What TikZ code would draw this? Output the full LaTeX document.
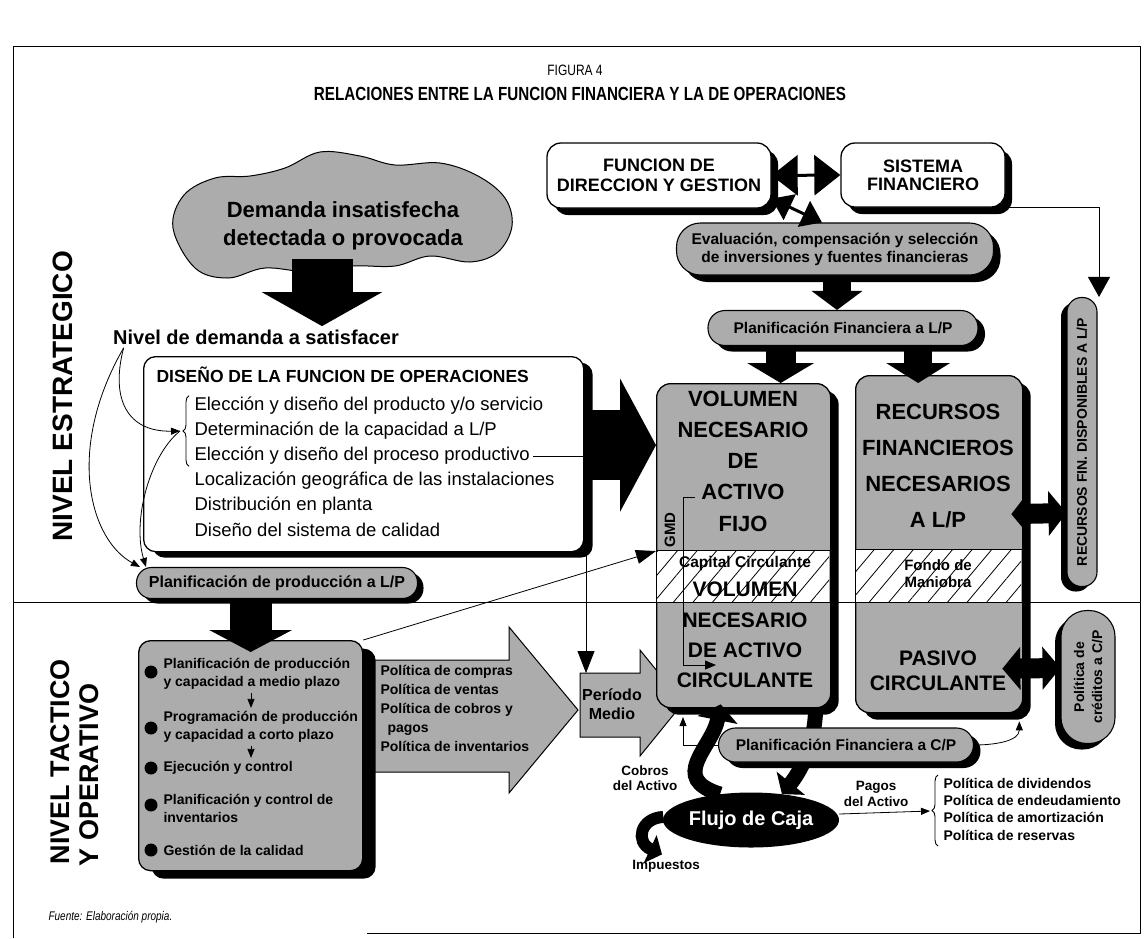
\documentclass[tikz,border=0pt]{standalone}
\usepackage{fontspec}
\setmainfont{Liberation Sans}
\newfontfamily\condfont[FakeStretch=0.8]{Liberation Sans}
\usetikzlibrary{arrows.meta,shapes.geometric,shadows,patterns.meta,decorations.pathreplacing}
\newcommand{\tam}[2]{\fontsize{#1}{#2}\selectfont}
\definecolor{fgris}{RGB}{172,172,172}
\tikzset{
  sombra/.style 2 args={drop shadow={shadow xshift=#1, shadow yshift=#2, fill=black, opacity=1}},
  caja/.style={draw, line width=1.3pt, rounded corners=12pt, fill=white, inner sep=2pt},
  cajagris/.style={caja, fill=fgris},
  pildora/.style={draw, line width=1.1pt, fill=fgris, rounded corners=#1, inner sep=2pt,
                  font=\bfseries\tam{15.5}{18}},
  negra/.style={draw=black, line width=#1},
  fino/.style={-{Triangle[length=9pt,width=7pt]}, line width=0.8pt},
  doble/.style={{Triangle[length=26pt,width=40pt]}-{Triangle[length=26pt,width=40pt]}, line width=3pt},
  lab/.style={font=\bfseries\tam{14}{18}},
  renglon/.style={anchor=west, font=\tam{18.5}{22}},
  bala/.style={circle, fill=black, inner sep=0pt, minimum size=13pt},
  rayado/.style={pattern={Lines[angle=50,distance=15pt,line width=0.8pt]}}
}

\begin{document}
\begin{tikzpicture}[x=1pt,y=1pt]
  \useasboundingbox (0,0) rectangle (1147,-938);
  % frame and titles
  \draw[line width=1pt] (13,-938) -- (13,-46) -- (1140,-46) -- (1140,-933) -- (367,-933);
  \node[font=\condfont\tam{15}{17}] (figura) at (575,-70) {FIGURA 4};
  \node[font=\condfont\bfseries\tam{19}{21}] (titulo) at (580,-94) {RELACIONES ENTRE LA FUNCION FINANCIERA Y LA DE OPERACIONES};
  \node[anchor=west, font=\condfont\itshape\tam{12.5}{14}] (fuente) at (45,-917) {Fuente: Elaboración propia.};
  \draw[line width=0.8pt] (13,-602) -- (1140,-602);
  \node[rotate=90, anchor=west, font=\bfseries\tam{28}{30}] (nivelest) at (63,-545) {NIVEL ESTRATEGICO};
  \node[rotate=90, anchor=west, font=\bfseries\tam{27}{29}] (niveltac) at (60,-868) {NIVEL TACTICO};
  \node[rotate=90, anchor=west, font=\bfseries\tam{27}{29}] (nivelope) at (89,-870) {Y OPERATIVO};

  % strategic level: demand
  \draw[line width=1pt, fill=fgris] plot[smooth cycle, tension=0.6] coordinates {(173,-228) (184,-195) (215,-178) (250,-176) (285,-168) (320,-152) (360,-156) (395,-165) (440,-163) (478,-176) (505,-198) (512,-226) (498,-252) (470,-262) (430,-256) (395,-266) (352,-266) (310,-272) (265,-268) (228,-278) (195,-268)};
  \node[align=center, font=\bfseries\tam{22}{28}] (demanda) at (343,-226) {Demanda insatisfecha\\detectada o provocada};
  \coordinate (demandapie) at (322,-259);
  \node[font=\bfseries\tam{20}{22}] (nivel) at (256,-337) {Nivel de demanda a satisfacer};
  \draw[negra=61pt, -{Triangle[width=119pt,length=34pt]}] (demandapie) -- (demandapie |- nivel.north);

  % design of operations
  \node[caja, sombra={9pt}{-6pt}, minimum width=440pt, minimum height=195pt, anchor=north west] (diseno) at (143,-356) {};
  \node[anchor=west, font=\bfseries\tam{17.5}{20}] (disenotit) at (153,-375) {DISEÑO DE LA FUNCION DE OPERACIONES};
  \node[renglon] (el1) at (191,-406) {Elección y diseño del producto y/o servicio};
  \node[renglon] (el2) at (191,-431) {Determinación de la capacidad a L/P};
  \node[renglon] (el3) at (191,-456) {Elección y diseño del proceso productivo};
  \node[renglon] (el4) at (191,-481) {Localización geográfica de las instalaciones};
  \node[renglon] (el5) at (191,-506) {Distribución en planta};
  \node[renglon] (el6) at (191,-530) {Diseño del sistema de calidad};
  \draw[line width=0.9pt, decorate, decoration={brace, amplitude=6pt}] ([xshift=-2pt,yshift=2pt]el3.south west) -- ([xshift=-2pt,yshift=-2pt]el1.north west);
  \coordinate (llave) at (180,-431);
  \node[pildora=15pt, sombra={6pt}{-5pt}, minimum width=281pt, minimum height=31pt, font=\bfseries\tam{16}{18}] (planprod) at (277,-583) {Planificación de producción a L/P};
  \draw[fino] ([xshift=14pt]nivel.south west) .. controls (110,-400) and (128,-432) .. (llave);
  \draw[fino] ([xshift=14pt]nivel.south west) .. controls (65,-450) and (90,-540) .. ([xshift=-137pt]planprod.north);
  \draw[fino] (llave) .. controls (150,-455) and (132,-520) .. ([xshift=-131pt]planprod.north);

  % tactical level
  \draw[line width=1pt, fill=fgris] (360,-660) -- (509,-660) -- (509,-627) -- (578,-710) -- (509,-793) -- (509,-772) -- (360,-772) -- cycle;
  \node[cajagris, sombra={13pt}{-8pt}, minimum width=224pt, minimum height=230pt, anchor=north west] (tactico) at (138,-640) {};
  \draw[negra=42pt, -{Triangle[width=82pt,length=22pt]}] (tactico.north |- planprod.south) -- ([yshift=-12pt]tactico.north);
  \foreach \y/\n in {672/1,728/2,768/3,805/4,850/5}
    \node[bala] (bala\n) at (151,-\y) {};
  \node[lab, anchor=west, align=left] (tac1) at (160,-674) {Planificación de producción\\y capacidad a medio plazo};
  \node[lab, anchor=west, align=left] (tac2) at (160,-727) {Programación de producción\\y capacidad a corto plazo};
  \node[lab, anchor=west, align=left] (tac3) at (160,-768) {Ejecución y control};
  \node[lab, anchor=west, align=left] (tac4) at (160,-808) {Planificación y control de\\inventarios};
  \node[lab, anchor=west, align=left] (tac5) at (160,-850) {Gestión de la calidad};
  \coordinate (eje) at (251,-700);
  \draw[fino] (eje |- tac1.south) -- (eje |- tac2.north);
  \draw[fino] (eje |- tac2.south) -- (eje |- tac3.north);
  \node[anchor=north west, align=left, font=\bfseries\tam{14}{18.8}] (politicas) at (377,-662) {Política de compras\\Política de ventas\\Política de cobros y\\\hspace*{7pt}pagos\\Política de inventarios};
  \draw[line width=1pt, fill=fgris] (580,-673) -- (640,-673) -- (640,-650) -- (683,-703) -- (640,-756) -- (640,-737) -- (580,-737) -- cycle;
  \node[align=center, font=\bfseries\tam{16}{19}] (periodo) at (612,-704) {Período\\Medio};
  \coordinate (periodocima) at (586,-673);
  \coordinate (periodopunta) at (683,-703);
  \draw[fino, -{Triangle[length=22pt,width=17pt]}] (el3.east) -| (periodocima);

  % fixed and circulating assets
  \node[cajagris, sombra={8pt}{-7pt}, rounded corners=14pt, minimum width=174pt, minimum height=324pt, anchor=north west] (volumen) at (656,-383) {};
  \fill[white] (657,-550) rectangle (829,-602);
  \fill[rayado] (657,-550) rectangle (829,-602);
  \draw[line width=0.8pt] (656,-550) -- (830,-550);
  \draw[line width=0.8pt] (656,-602) -- (830,-602);
  \node[align=center, font=\bfseries\tam{22}{31.25}] (activofijo) at (743,-461) {VOLUMEN\\NECESARIO\\DE\\ACTIVO\\FIJO};
  \node[font=\bfseries\tam{15.5}{17}] (capital) at (745,-563) {Capital Circulante};
  \node[align=center, font=\bfseries\tam{21}{30.3}] (activocirc) at (745,-635) {VOLUMEN\\NECESARIO\\DE ACTIVO\\CIRCULANTE};
  \node[rotate=90, font=\bfseries\tam{15}{17}] (gmd) at (670,-530) {GMD};
  \coordinate (gmdcima) at (695,-497);
  \coordinate (gmdfin) at (716,-665);
  \draw[line width=0.8pt, -{Triangle[length=11pt,width=9pt]}] (gmdcima) -- ++(-12,0) |- (gmdfin);

  % financial resources
  \node[cajagris, sombra={8pt}{-7pt}, rounded corners=14pt, minimum width=167pt, minimum height=337pt, anchor=north west] (recursos) at (855,-375) {};
  \fill[white] (856,-549) rectangle (1021,-602);
  \fill[rayado] (856,-549) rectangle (1021,-602);
  \draw[line width=0.8pt] (855,-549) -- (1022,-549);
  \draw[line width=0.8pt] (855,-602) -- (1022,-602);
  \node[align=center, font=\bfseries\tam{22}{35.7}] (recnec) at (938,-466) {RECURSOS\\FINANCIEROS\\NECESARIOS\\A L/P};
  \node[align=center, font=\bfseries\tam{15}{17}] (fondo) at (938,-574) {Fondo de\\Maniobra};
  \node[align=center, font=\bfseries\tam{21}{25}] (pasivo) at (938,-671) {PASIVO\\CIRCULANTE};

  % management and financial system
  \node[caja, sombra={7pt}{-7pt}, rounded corners=14pt, minimum width=224pt, minimum height=65pt, align=center, font=\bfseries\tam{18}{20}] (funcion) at (659,-175.5) {FUNCION DE\\DIRECCION Y GESTION};
  \node[caja, sombra={7pt}{-7pt}, rounded corners=14pt, minimum width=164pt, minimum height=64pt, align=center, font=\bfseries\tam{18}{18}] (sistema) at (923,-175) {SISTEMA\\FINANCIERO};
  \draw[doble] (funcion.east) -- (sistema.west);
  \node[pildora=24pt, sombra={7pt}{-7pt}, minimum width=317pt, minimum height=52pt, align=center, font=\bfseries\tam{15.5}{18}] (evalua) at (835,-249) {Evaluación, compensación y selección\\de inversiones y fuentes financieras};
  \draw[{Triangle[length=20pt,width=28pt]}-{Triangle[length=20pt,width=28pt]}, line width=3pt] ([yshift=10pt]funcion.south east) -- ([xshift=-13pt]evalua.north);
  \node[pildora=17pt, sombra={7pt}{-6pt}, minimum width=270pt, minimum height=35pt] (planfin) at (843,-328) {Planificación Financiera a L/P};
  \draw[negra=28pt, -{Triangle[width=50pt,length=19pt]}] ([xshift=2pt]evalua.south) -- ([xshift=2pt]evalua.south |- planfin.north);
  \draw[negra=30pt, -{Triangle[width=66pt,length=20pt]}] ([xshift=37pt]volumen.north |- planfin.south) -- ([xshift=37pt]volumen.north);
  \draw[negra=28pt, -{Triangle[width=63pt,length=20pt]}] ([xshift=-21pt]recursos.north |- planfin.south) -- ([xshift=-21pt,yshift=-8pt]recursos.north);
  \node[pildora=14.5pt, sombra={-6pt}{-5pt}, rotate=90, minimum width=289pt, minimum height=30pt, font=\bfseries\tam{14}{16}] (recfin) at (1082,-442) {RECURSOS FIN. DISPONIBLES A L/P};
  \draw[fino, -{Triangle[length=20pt,width=22pt]}] (sistema.south east) -| ([xshift=17pt]recfin.east);
  \draw[negra=20pt, {Triangle[width=44pt,length=18pt]}-{Triangle[width=44pt,length=18pt]}] ([xshift=-12pt,yshift=30pt]recursos.east) -- ([yshift=-71pt]recfin.north);
  \node[pildora=26pt, sombra={-6pt}{-6pt}, rotate=90, minimum width=133pt, minimum height=54pt, align=center, font=\bfseries\tam{14}{18}] (credito) at (1088,-677) {Política de\\créditos a C/P};
  \draw[negra=20pt, {Triangle[width=42pt,length=18pt]}-{Triangle[width=42pt,length=18pt]}] ([xshift=-21pt,yshift=-124.5pt]recursos.east) -- ([yshift=9pt]credito.north);

  % cash flow
  \node[font=\bfseries\tam{13.5}{15}] (impuestos) at (666,-866) {Impuestos};
  \node[ellipse, fill=black, minimum width=171pt, minimum height=55pt, inner sep=0pt, text=white, font=\bfseries\tam{20}{22}] (flujo) at (751,-820) {Flujo de Caja};
  \draw[negra=15pt, -{Triangle[width=36pt,length=14pt]}] ([xshift=72pt]volumen.south) .. controls (815,-745) and (800,-772) .. (flujo.40);
  \draw[negra=15pt, -{Triangle[width=40pt,length=16pt]}] (flujo.140) .. controls (668,-778) and (712,-748) .. ([xshift=-23pt,yshift=4pt]volumen.south);
  \draw[negra=12pt, -{Triangle[width=30pt,length=13pt]}] (flujo.178) .. controls (640,-818) and (635,-842) .. ([xshift=-4pt,yshift=2pt]impuestos.north);
  \node[pildora=17pt, sombra={7pt}{-6pt}, minimum width=255pt, minimum height=34pt] (planfincp) at (846,-745) {Planificación Financiera a C/P};
  \draw[fino] (planfincp.west) -| ([yshift=-14pt]periodopunta);
  \draw[fino] (planfincp.east) to[out=0, in=-90] ([xshift=-4pt,yshift=-8pt]recursos.south east);
  \node[align=center, font=\bfseries\tam{13.5}{15.5}] (cobros) at (645,-778) {Cobros\\del Activo};
  \node[align=center, font=\bfseries\tam{13.5}{15.5}] (pagos) at (876,-794) {Pagos\\del Activo};
  \coordinate (llavepol) at (930,-811);
  \draw[fino] ([yshift=6pt]flujo.east) -- (llavepol);
  \draw[line width=0.9pt, decorate, decoration={brace, amplitude=6pt}] (938,-846) -- (938,-775);
  \node[anchor=west, align=left, font=\bfseries\tam{14}{17.3}] (dividendos) at (940,-809) {Política de dividendos\\Política de endeudamiento\\Política de amortización\\Política de reservas};

  % links across levels
  \draw[negra=70pt, -{Triangle[width=132pt,length=36pt]}] ([yshift=9pt]diseno.east) -- ([yshift=9pt]diseno.east -| volumen.west);
  \draw[fino, -{Triangle[length=20pt,width=14pt]}] (tactico.north east) -- (volumen.west |- gmd.west);
\end{tikzpicture}
\end{document}
